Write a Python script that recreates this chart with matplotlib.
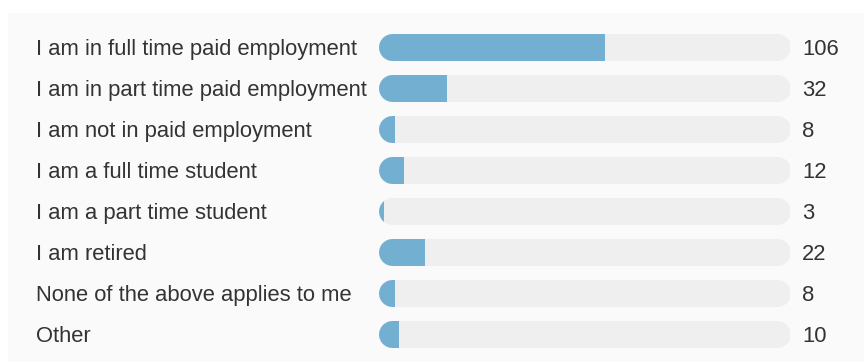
import matplotlib.pyplot as plt
from matplotlib.patches import Rectangle
from matplotlib.transforms import blended_transform_factory

# --- Dados ---
respostas = [
    'I am in full time paid employment',
    'I am in part time paid employment',
    'I am not in paid employment',
    'I am a full time student',
    'I am a part time student',
    'I am retired',
    'None of the above applies to me',
    'Other',
]
contagens = [106, 32, 8, 12, 3, 22, 8, 10]
total = 192  # escala da barra cheia

# --- Estilo ---
cor_barra = '#72afd0'
cor_trilho = '#efefef'
cor_painel = '#fafafa'
cor_texto = '#333333'
fonte = 'Liberation Sans'

W, H, dpi = 864, 362, 100
fig = plt.figure(figsize=(W / dpi, H / dpi), dpi=dpi, facecolor='white')

# painel cinza claro atrás de tudo
fig.patches.append(Rectangle((8 / W, 0), 1, (H - 13) / H, transform=fig.transFigure,
                             facecolor=cor_painel, edgecolor='none', zorder=-10))

# eixo ocupa só a faixa das barras
x0, x1 = 378, 790
passo = 41.07
topo = 46.5 - passo / 2
base = topo + passo * len(respostas)
ax = fig.add_axes([x0 / W, (H - base) / H, (x1 - x0) / W, (base - topo) / H])
ax.set_xlim(0, total)
ax.set_ylim(len(respostas) - 0.5, -0.5)
ax.axis('off')

altura_px = 27
lw = altura_px * 72 / dpi
raio = total * (altura_px / 2) / (x1 - x0)
desce = 8.3 / passo  # linha de base do texto abaixo do centro da barra

txt = blended_transform_factory(fig.transFigure, ax.transData)

for i, (nome, n) in enumerate(zip(respostas, contagens)):
    # trilho arredondado
    ax.plot([raio, total - raio], [i, i], color=cor_trilho, lw=lw,
            solid_capstyle='round', zorder=1)
    # barra azul: mesma forma, cortada no valor
    linha, = ax.plot([raio, total - raio], [i, i], color=cor_barra, lw=lw,
                     solid_capstyle='round', zorder=2)
    corte = Rectangle((-raio, i - 0.5), n + raio, 1, transform=ax.transData)
    linha.set_clip_path(corte)

    ax.text(36 / W, i + desce, nome, transform=txt, ha='left', va='baseline',
            fontsize=15.85, family=fonte, color=cor_texto, clip_on=False)
    ax.text(802 / W, i + desce, str(n), transform=txt, ha='left', va='baseline',
            fontsize=15.85, family=fonte, color=cor_texto, clip_on=False)

fig.savefig('out.png', dpi=dpi, facecolor=fig.get_facecolor())
